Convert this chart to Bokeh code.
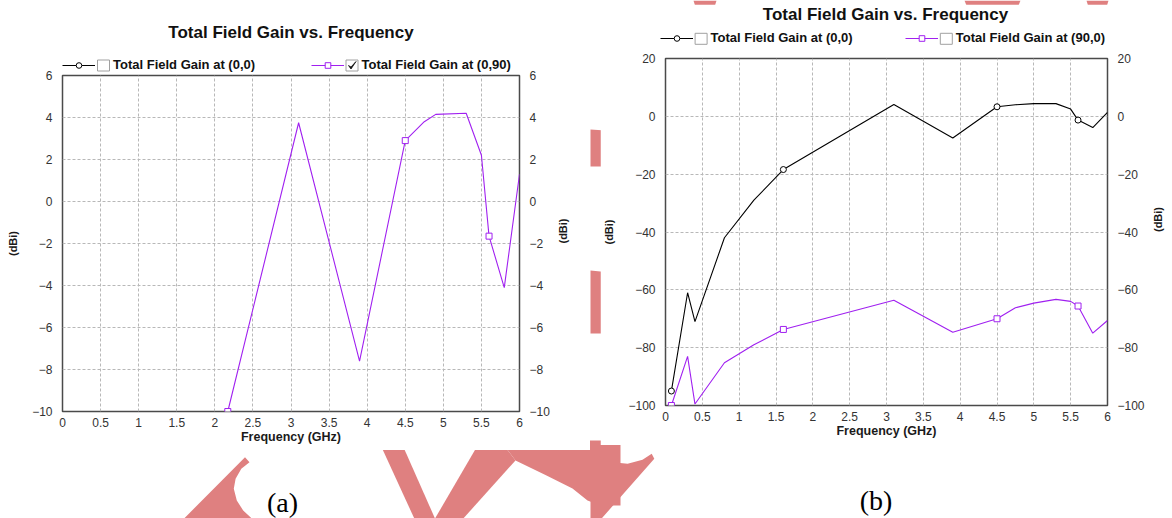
import math
from bokeh.plotting import figure
from bokeh.models import (Range1d, LinearAxis, FixedTicker, Legend, LegendItem)
from bokeh.core.properties import value
from bokeh.embed import file_html
from bokeh.resources import INLINE

# ---------------- data ----------------
x_ticks = [0, 0.5, 1, 1.5, 2, 2.5, 3, 3.5, 4, 4.5, 5, 5.5, 6]
x_tick_labels = ["0", "0.5", "1", "1.5", "2", "2.5", "3", "3.5", "4", "4.5", "5", "5.5", "6"]
ya_ticks = [-10, -8, -6, -4, -2, 0, 2, 4, 6]
yb_ticks = [-100, -80, -60, -40, -20, 0, 20]

# panel (a): Total Field Gain at (0,90)
freq_a90 = [2.17, 3.1, 3.9, 4.5, 4.75, 4.9, 5.3, 5.5, 5.6, 5.8, 6.0]
gain_a90 = [-10, 3.75, -7.6, 2.9, 3.8, 4.15, 4.2, 2.2, -1.65, -4.1, 1.3]
mark_a90 = [0, 3, 8]
# panel (a): Total Field Gain at (0,0) (no visible values, legend entry only)
freq_a0 = []
gain_a0 = []
mark_a0 = []

# panel (b): Total Field Gain at (0,0)
freq_b0 = [0.08, 0.3, 0.4, 0.8, 1.2, 1.6, 3.1, 3.9, 4.5, 4.75, 5.0, 5.3, 5.5, 5.6, 5.8, 6.0]
gain_b0 = [-95, -61, -71, -42, -29, -18.4, 4.1, -7.5, 3.3, 4.0, 4.4, 4.4, 2.5, -1.3, -3.9, 1.4]
mark_b0 = [0, 5, 8, 13]
# panel (b): Total Field Gain at (90,0)
freq_b90 = [0.08, 0.3, 0.4, 0.8, 1.2, 1.6, 3.1, 3.9, 4.5, 4.75, 5.0, 5.3, 5.5, 5.6, 5.8, 6.0]
gain_b90 = [-100, -83, -99.5, -85.2, -79, -73.7, -63.6, -74.7, -70, -66.2, -64.6, -63.3, -64, -65.6, -75, -70.6]
mark_b90 = [0, 5, 8, 13]

title_text = "Total Field Gain vs. Frequency"
x_label = "Frequency (GHz)"
y_label = "(dBi)"
captions = ["(a)", "(b)"]
legend_labels_a = ["Total Field Gain at (0,0)", "Total Field Gain at (0,90)"]
legend_labels_b = ["Total Field Gain at (0,0)", "Total Field Gain at (90,0)"]
legend_checked_a = [False, True]
legend_checked_b = [False, False]

# ---------------- styles ----------------
FONT = "Liberation Sans"
BLACK = "#000000"
PURPLE = "#a020f0"
WM = "#df8080"
NAN = float("nan")
LINE_W = 1.1
MARK_SIZE = 6


def line_kw(color):
    return dict(line_color=color, line_width=LINE_W)


def mark_kw(color, marker):
    return dict(marker=marker, size=MARK_SIZE, line_color=color, fill_color="white", line_width=1)


def make_panel(width, height, left, right, top, bottom, y_rng, y_ticks, pos):
    p = figure(width=width, height=height, x_range=Range1d(0, 6), y_range=Range1d(*y_rng),
               output_backend="svg", toolbar_location=None,
               min_border_left=left, min_border_right=right,
               min_border_top=top, min_border_bottom=bottom)
    p.styles = {"position": "absolute", "left": f"{pos[0]}px", "top": f"{pos[1]}px"}
    p.add_layout(LinearAxis(), "right")
    p.background_fill_color = "white"
    p.border_fill_color = "white"
    p.outline_line_color = "#4a4a4a"
    p.outline_line_width = 1.5

    p.xaxis.ticker = FixedTicker(ticks=x_ticks)
    p.xaxis.major_label_overrides = {float(t): s for t, s in zip(x_ticks, x_tick_labels)}
    p.yaxis.ticker = FixedTicker(ticks=y_ticks)
    for ax in list(p.xaxis) + list(p.yaxis):
        ax.axis_line_color = None
        ax.major_tick_line_color = None
        ax.minor_tick_line_color = None
        ax.major_tick_out = 0
        ax.major_tick_in = 0
        ax.major_label_text_font = FONT
        ax.major_label_text_font_size = "12px"
        ax.major_label_text_color = "#333333"
        ax.axis_label_text_font = FONT
        ax.axis_label_text_font_style = "bold"
        ax.axis_label_text_color = "#1a1a1a"
    p.xaxis.axis_label = x_label
    p.xaxis.axis_label_text_font_size = "12.5px"
    p.xaxis.major_label_standoff = 6
    p.xaxis.axis_label_standoff = 0
    p.yaxis.axis_label = y_label
    p.yaxis.axis_label_text_font_size = "11px"
    p.yaxis.major_label_standoff = 10
    p.yaxis.axis_label_standoff = 10
    p.right[0].axis_label_orientation = math.pi / 2

    for g in (p.xgrid, p.ygrid):
        g.grid_line_color = "#b8b8b8"
        g.grid_line_dash = "3 2"
        g.grid_line_width = 1
    p.xgrid.ticker = FixedTicker(ticks=x_ticks)
    p.ygrid.ticker = FixedTicker(ticks=y_ticks)
    return p


def add_series(p, fx, gy, marks, color, marker):
    p.line(fx, gy, **line_kw(color))
    p.scatter([fx[i] for i in marks], [gy[i] for i in marks], **mark_kw(color, marker))


def page_figure(transparent):
    f = figure(width=1172, height=518, x_range=Range1d(0, 1172), y_range=Range1d(518, 0),
               x_axis_type=None, y_axis_type=None, min_border=0,
               output_backend="svg", toolbar_location=None)
    f.styles = {"position": "absolute", "left": "0px", "top": "0px"}
    f.outline_line_color = None
    f.grid.visible = False
    if transparent:
        f.background_fill_alpha = 0
        f.border_fill_alpha = 0
    else:
        f.background_fill_color = "white"
        f.border_fill_color = "white"
    return f


# ---------------- background page (watermark + captions) ----------------
bg = page_figure(False)
wm_xs = [
    [183.6, 244.5, 249, 240.8, 235.1, 233.3, 236.3, 242.7, 251.3],
    [378, 400, 434.5, 413.8],
    [434.5, 462.8, 515, 500, 480],
    [500, 620, 620, 600, 587, 572, 546, 515],
    [590, 612.3, 627.1, 642, 651.2, 653.8, 601.1, 590],
    [590, 620, 620, 590],
    [590, 620, 620, 590],
    [693, 716, 713, 696],
    [964, 1020, 1016, 968],
    [1086, 1108, 1105, 1089],
]
wm_ys = [
    [518, 456.7, 461.7, 468.3, 478.3, 488.3, 500, 510, 518],
    [440, 440, 518, 518],
    [518, 518, 460, 440, 440],
    [440, 440, 505, 505, 500, 488, 475, 460],
    [453, 461.7, 463.3, 459.3, 453.3, 458.3, 518, 518],
    [129, 131, 166, 166],
    [270, 273, 333, 333],
    [0, 0, 10, 10],
    [0, 0, 10, 10],
    [0, 0, 10, 10],
]
bg.patches(xs=wm_xs, ys=wm_ys, fill_color=WM, line_color=None)
bg.text(x=[282, 875.5], y=[501.7, 500], text=captions,
        text_font=value("Liberation Serif"), text_font_size="28px",
        text_align="center", text_baseline="middle", text_color="black")

# ---------------- chart panels ----------------
pa = make_panel(590, 450, 62, 71, 75, 39, (-10, 6), ya_ticks, (0, 0))
add_series(pa, freq_a0, gain_a0, mark_a0, BLACK, "circle")
add_series(pa, freq_a90, gain_a90, mark_a90, PURPLE, "square")

pb = make_panel(572, 441, 59, 61, 54, 40, (-100, 20), yb_ticks, (600, 4))
add_series(pb, freq_b0, gain_b0, mark_b0, BLACK, "circle")
add_series(pb, freq_b90, gain_b90, mark_b90, PURPLE, "square")

# ---------------- headers (titles, legends, check boxes) on a transparent overlay ----------------
ov = page_figure(True)
ov.text(x=[290.5, 885], y=[31.7, 14], text=[title_text, title_text],
        text_font=value(FONT), text_font_size="17px", text_font_style="bold",
        text_align="center", text_baseline="middle", text_color="#111111")

# (left x of legend glyph, vertical centre) for each legend entry
legend_pos_a = [(62, 65), (310.5, 65)]
legend_pos_b = [(659.6, 38.3), (904.8, 38.3)]
styles = [(BLACK, "circle"), (PURPLE, "square")]

box_x, box_y, tick_xs, tick_ys = [], [], [], []
for labels, checks, positions in ((legend_labels_a, legend_checked_a, legend_pos_a),
                                  (legend_labels_b, legend_checked_b, legend_pos_b)):
    for lab, chk, (gx, gy), (color, marker) in zip(labels, checks, positions, styles):
        lp = ov.line([NAN], [NAN], **line_kw(color))
        mp = ov.scatter([NAN], [NAN], **mark_kw(color, marker))
        leg = Legend(items=[LegendItem(label=lab, renderers=[lp, mp])],
                     location=(gx, 518 - (gy + 7)), orientation="horizontal",
                     glyph_width=33, glyph_height=14, label_height=14, label_standoff=18,
                     padding=0, margin=0, spacing=0,
                     border_line_color=None, background_fill_alpha=0,
                     label_text_font=FONT, label_text_font_size="13px",
                     label_text_font_style="bold", label_text_color="#111111")
        ov.add_layout(leg)
        box_x.append(gx + 41)
        box_y.append(gy)
        if chk:
            tick_xs.append([gx + 37.5, gx + 40, gx + 45, gx + 40])
            tick_ys.append([gy, gy + 3.5, gy - 4, gy + 1.5])

ov.rect(x=box_x, y=box_y, width=12, height=11, fill_color="white",
        line_color="#a0a0a0", line_width=1)
ov.patches(xs=tick_xs, ys=tick_ys, fill_color="#111111", line_color="#111111", line_width=0.8)

open("out.html", "w").write(file_html([bg, pa, pb, ov], INLINE))
